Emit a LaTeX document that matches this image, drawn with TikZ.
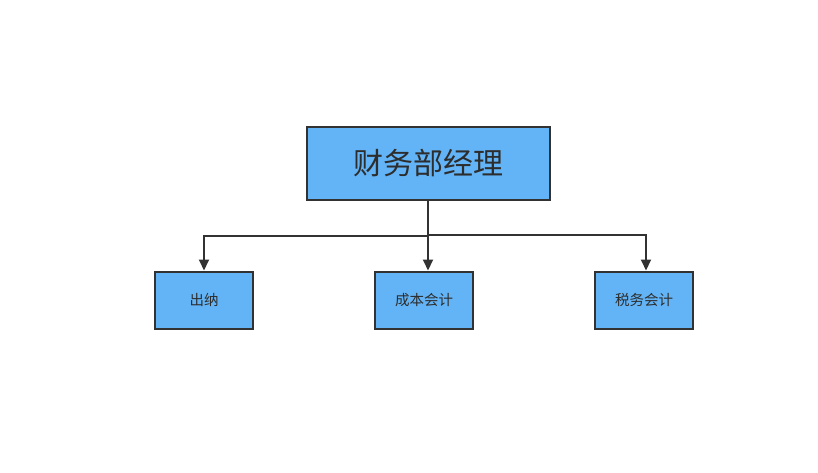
\documentclass[tikz,border=0pt]{standalone}
\usepackage{fontspec}
\newfontfamily\cjk{Noto Sans CJK SC}
\usetikzlibrary{arrows.meta}
\definecolor{boxfill}{RGB}{99,180,246}
\definecolor{edge}{RGB}{50,50,50}
\definecolor{txt}{RGB}{45,45,45}
\begin{document}
\begin{tikzpicture}[x=1pt,y=-1pt,
  box/.style={draw=edge,line width=2pt,fill=boxfill,text=txt,inner sep=0pt,font=\cjk\fontsize{14.5}{16}\selectfont},
  conn/.style={draw=edge,line width=2pt},
  arr/.style={conn,-{Triangle[length=11pt,width=10pt]}}]
\useasboundingbox (0,0) rectangle (818,473);
\node[box,minimum width=243pt,minimum height=73pt,font=\cjk\fontsize{30}{33}\selectfont] (top) at (428.5,163.5) {财务部经理};
\node[box,minimum width=98pt,minimum height=57pt] (a) at (204,300) {出纳};
\node[box,minimum width=98pt,minimum height=57pt] (b) at (424,300) {成本会计};
\node[box,minimum width=98pt,minimum height=57pt] (c) at (644,300) {税务会计};
\coordinate (j1) at (428,236);
\coordinate (j2) at (428,235);
\draw[arr] (top.south -| j1) -- (j1 |- b.north);
\draw[arr] (j1) -| (a.north);
\draw[arr] (j2) -| ([xshift=2pt]c.north);
\end{tikzpicture}
\end{document}
